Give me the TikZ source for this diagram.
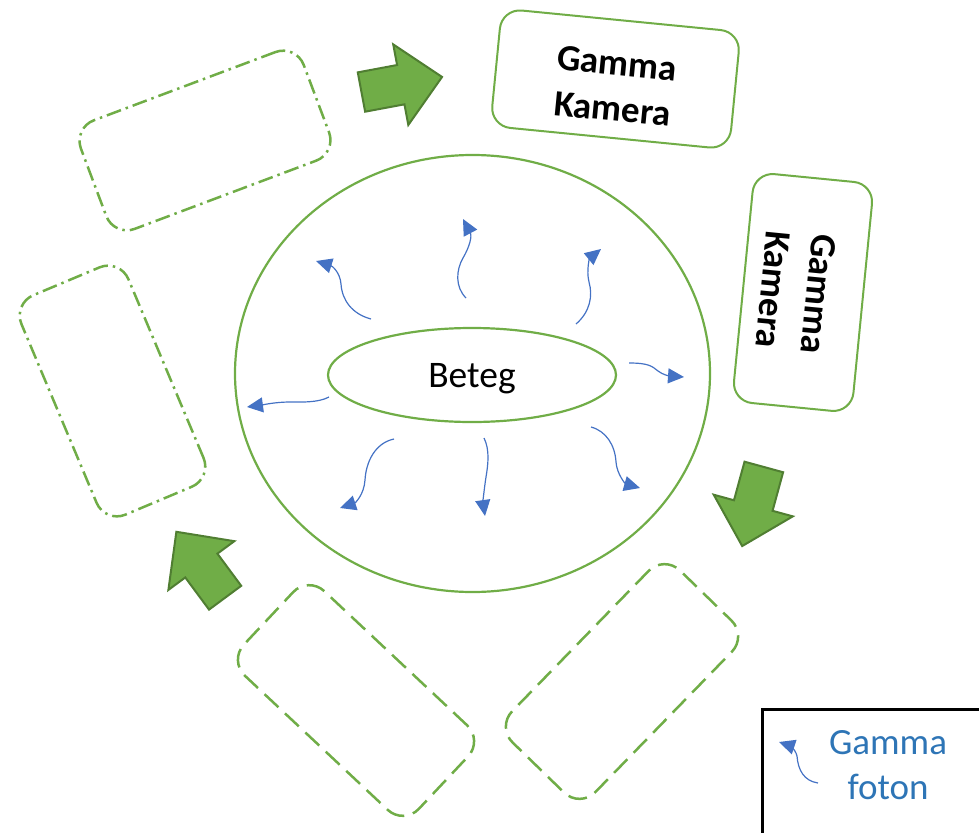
\documentclass[tikz,border=0pt]{standalone}
\usepackage{fontspec}
\setmainfont{Carlito}
\usetikzlibrary{shapes.geometric,arrows.meta}
\definecolor{boxgreen}{HTML}{70AD47}
\definecolor{arrowgreen}{HTML}{507E32}
\definecolor{photonblue}{HTML}{4472C4}
\definecolor{legendblue}{HTML}{2E75B6}

\begin{document}
\begin{tikzpicture}[x=1pt,y=1pt,
		camera/.style={draw=boxgreen, line width=2pt, rounded corners=20pt, minimum width=240pt, minimum height=118pt, align=center, text height=84pt, text depth=0pt, font=\fontsize{37}{46}\selectfont\bfseries},
		slotdashdot/.style={draw=boxgreen, line width=2.5pt, rounded corners=22pt, minimum width=238pt, minimum height=116pt, dash pattern=on 15pt off 5pt on 2.5pt off 5pt},
		slotdashed/.style={draw=boxgreen, line width=2.5pt, rounded corners=22pt, minimum width=240pt, minimum height=116pt, dash pattern=on 19pt off 9pt},
		photon/.style={photonblue, line width=1.2pt, -{Triangle[length=16pt, width=15pt]}},
		bigarrow/.style={fill=boxgreen, draw=arrowgreen, line width=2pt, line join=miter}]
		\useasboundingbox (0,0) rectangle (979,-832);
		\node [draw=boxgreen, line width=2.2pt, ellipse, minimum width=475pt, minimum height=437pt] (body) at (472.5,-373.5) {};
		\node [draw=boxgreen, line width=2.2pt, ellipse, minimum width=288pt, minimum height=94pt, text depth=0pt, font=\fontsize{37.5}{44}\selectfont] (beteg) at (472,-375) {Beteg};
		\node [camera, rotate=-5.6] (kameraA) at (615.5,-79) {Gamma\\Kamera};
		\node [camera, rotate=-95.6, minimum width=230pt, minimum height=120pt] (kameraB) at (803,-292.5) {Gamma\\Kamera};
		\node [slotdashdot, rotate=20.6] (slotA) at (205,-140.5) {};
		\node [slotdashdot, rotate=-67.2] (slotB) at (112.5,-391) {};
		\node [slotdashed, rotate=-43.2] (slotC) at (356,-700.5) {};
		\node [slotdashed, rotate=45.8] (slotD) at (622,-681.5) {};
		\draw [bigarrow, shift={(401.75,-84.5)}, rotate=10.6] (-41,20) -- (-1,20) -- (-1,41) -- (41,0) -- (-1,-41) -- (-1,-20) -- (-41,-20) -- cycle;
		\draw [bigarrow, shift={(753,-506.5)}, rotate=-105.3] (-41,20) -- (-1,20) -- (-1,41) -- (41,0) -- (-1,-41) -- (-1,-20) -- (-41,-20) -- cycle;
		\draw [bigarrow, shift={(200.75,-564.75)}, rotate=126.5] (-41,20) -- (-1,20) -- (-1,41) -- (41,0) -- (-1,-41) -- (-1,-20) -- (-41,-20) -- cycle;
		\draw [photon] (371,-319) .. controls (352,-314) and (342,-300) .. (341,-284) .. controls (340,-272) and (332,-266) .. (316,-261);
		\draw [photon] (466,-298) .. controls (455,-287) and (456,-270) .. (463,-258) .. controls (470,-246) and (472,-236) .. (463,-219);
		\draw [photon] (576,-324) .. controls (590,-312) and (593,-296) .. (589,-282) .. controls (586,-270) and (590,-258) .. (601,-249);
		\draw [photon] (629,-363) .. controls (648,-363) and (652,-366) .. (658,-371) .. controls (663,-375) and (670,-376) .. (684,-377);
		\draw [photon] (329,-397) .. controls (318,-403) and (300,-402) .. (290,-402) .. controls (275,-402) and (262,-405) .. (247,-407);
		\draw [photon] (394,-439) .. controls (375,-443) and (366,-462) .. (365,-480) .. controls (364,-495) and (355,-503) .. (340,-508);
		\draw [photon] (484,-438) .. controls (490,-450) and (488,-465) .. (486,-477) .. controls (484,-490) and (483,-502) .. (485,-516);
		\draw [photon] (591,-427) .. controls (606,-431) and (615,-445) .. (616,-462) .. controls (617,-475) and (626,-484) .. (640,-488);
		\node [draw, line width=2.5pt, minimum width=240pt, minimum height=140pt, anchor=north west] (legend) at (761,-708) {};
		\node [legendblue, align=center, font=\fontsize{37}{45}\selectfont] (legendtext) at (888,-765.5) {Gamma\\foton};
		\draw [photon] (818,-783) .. controls (804,-781) and (798,-770) .. (797,-756) .. controls (795,-748) and (788,-745) .. (779,-742);
	\end{tikzpicture}
\end{document}
